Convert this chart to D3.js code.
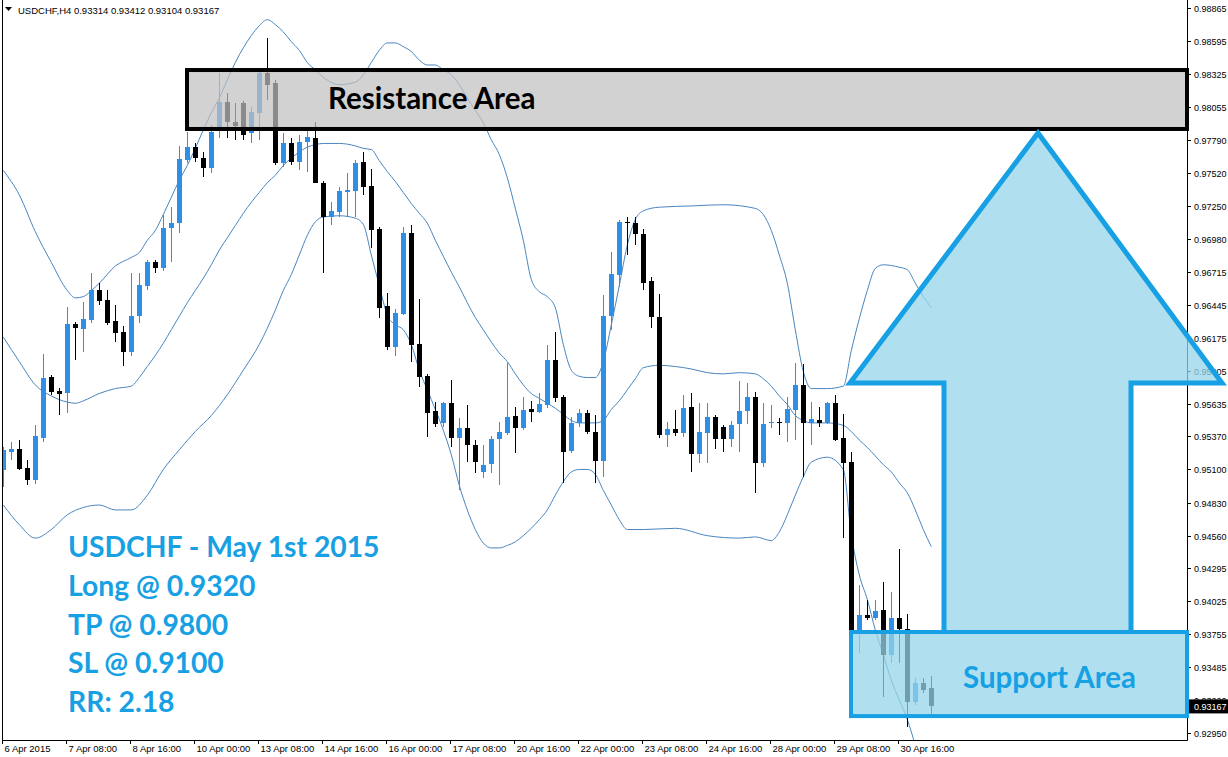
<!DOCTYPE html>
<html><head><meta charset="utf-8">
<script src="https://cdn.jsdelivr.net/npm/d3@7"></script>
<style>body{margin:0;background:#fff;} svg{display:block;}</style>
</head><body>
<svg id="c" width="1228" height="757"></svg>
<script>
// ---------- DATA ----------
const symbol = "USDCHF,H4";
const opens = [
.95096,.95242,.95267,.95112,.95014,.95357,.95854,.95740,.95724,.96287,
.96246,.96319,.96564,.96482,.96311,.96221,.96058,.96352,.96597,.96792,
.96744,.97070,.97111,.97625,.97731,.97641,.97559,.97894,.98098,.97935,
.98090,.97845,.98008,.98334,.98253,.97600,.97763,.97608,.97772,.97804,
.97437,.97160,.97200,.97364,.97372,.97608,.97413,.97062,.96434,.96099,
.96368,.97029,.96123,.95862,.95577,.95479,.95642,.95357,.95438,.95299,
.95079,.95144,.95348,.95397,.95536,.95438,.95593,.95569,.95626,.95993,
.95691,.95251,.95479,.95561,.95406,.95169,.96352,.96686,.97119,.97111,
.97021,.96637,.96344,.95381,.95430,.95397,.95609,.95226,.95397,.95528,
.95446,.95348,.95471,.95577,.95691,.95153,.95479,.95487,.95479,.95585,
.95789,.95479,.95503,.95479,.95642,.95357,.95161,.93760,.93913,.93888,
.93953,.93586,.93888,.93798,.93203,.93358,.93314];
const highs = [
.95283,.95324,.95340,.95177,.95463,.96042,.95871,.95765,.96425,.96303,
.96466,.96703,.96621,.96564,.96442,.96270,.96703,.96703,.96809,.96809,
.97176,.97241,.97739,.97853,.97763,.97690,.97910,.98334,.98171,.98090,
.98106,.98057,.98359,.98620,.98277,.97845,.97804,.97829,.97886,.97935,
.97453,.97282,.97404,.97519,.97625,.97690,.97551,.97078,.96540,.96409,
.97078,.97094,.96491,.95879,.95650,.95650,.95830,.95520,.95626,.95340,
.95299,.95373,.95487,.95968,.95609,.95691,.95658,.95724,.96115,.96221,
.95707,.95528,.95593,.95585,.95544,.96523,.96874,.97135,.97160,.97160,
.97062,.96670,.96531,.95487,.95585,.95707,.95724,.95642,.95642,.95544,
.95463,.95495,.95822,.95805,.95732,.95642,.95626,.95520,.95691,.95968,
.95960,.95650,.95609,.95650,.95707,.95552,.95242,.94157,.94035,.94035,
.94182,.94100,.94451,.93921,.93399,.93399,.93412];
const lows = [
.94957,.95177,.95096,.94973,.94981,.95324,.95707,.95544,.95561,.95993,
.96058,.96295,.96442,.96279,.96140,.95944,.96026,.96295,.96564,.96703,
.96719,.96792,.97029,.97600,.97608,.97486,.97519,.97804,.97804,.97788,
.97788,.97763,.97788,.98114,.97584,.97568,.97584,.97543,.97527,.97437,
.96703,.97094,.97160,.97160,.97160,.97339,.96907,.96336,.96075,.96026,
.96360,.95977,.95773,.95365,.95446,.95446,.95283,.94932,.95161,.95071,
.95030,.95071,.94973,.95381,.95234,.95422,.95487,.95561,.95601,.95650,
.94989,.95234,.95446,.95389,.94989,.95038,.96238,.96589,.96850,.96931,
.96564,.96254,.95357,.95283,.95373,.95365,.95079,.95153,.95153,.95267,
.95242,.95283,.95242,.95471,.94908,.95120,.95438,.95381,.95324,.95340,
.95038,.95299,.95446,.95471,.95332,.94541,.93745,.93602,.93872,.93872,
.93244,.93521,.93521,.92999,.93178,.93276,.93104];
const closes = [
.95259,.95267,.95104,.95014,.95373,.95846,.95732,.95716,.96287,.96254,
.96327,.96564,.96474,.96295,.96213,.96058,.96352,.96605,.96792,.96744,
.97070,.97111,.97633,.97731,.97641,.97559,.97853,.98098,.97935,.97902,
.97829,.98016,.98334,.98237,.97600,.97763,.97608,.97772,.97812,.97437,
.97160,.97209,.97372,.97380,.97600,.97404,.97054,.96417,.96099,.96376,
.97029,.96115,.95854,.95561,.95471,.95642,.95357,.95438,.95299,.95161,
.95136,.95348,.95406,.95528,.95438,.95585,.95569,.95634,.95993,.95683,
.95242,.95479,.95561,.95406,.95169,.96352,.96695,.97119,.97111,.97021,
.96621,.96344,.95381,.95430,.95397,.95601,.95226,.95406,.95528,.95348,
.95348,.95463,.95577,.95691,.95153,.95471,.95487,.95479,.95593,.95789,
.95479,.95512,.95479,.95642,.95340,.95153,.93760,.93913,.93888,.93945,
.93586,.93888,.93798,.93203,.93358,.93301,.93167];

// Bollinger bands (bar index, price)
const upperBars = [0,2,4,6,8,9,10,11,12,14,16,17,18,19,20,21,22,23,24,25,26,27,28,29,30,31,32,33,34,35,36,37,38,39,40,42,44,45,46,47,48,49,50,51,52,53,54,55,56,57,58,59,60,61,62,63,64,65,66,67,68,69,70,71,72,73,74,75,76,77,78,79,80,82,86,90,94,95,96,97,98,99,100,101,103,105,106,107,108,109,110,112,113,114,115,116];
const upperVals = [.9754,.9734,.9704,.9679,.9656,.9650,.9651,.9656,.9662,.9676,.9683,.9687,.9697,.9705,.9718,.9732,.9746,.9758,.9772,.9787,.9801,.9813,.9828,.9842,.9854,.9864,.9872,.9877,.9873,.9867,.9859,.9852,.9842,.9836,.9830,.9824,.9826,.9832,.9842,.9852,.9858,.9858,.9855,.9851,.9844,.9840,.9840,.9836,.9832,.9824,.9813,.9803,.9793,.9779,.9767,.9748,.9723,.9697,.9665,.9655,.9651,.9642,.9612,.9591,.9586,.9585,.9585,.9598,.9628,.9660,.9693,.9714,.9721,.9724,.9725,.9726,.9723,.9718,.9705,.9685,.9662,.9624,.9590,.9576,.9576,.9578,.9607,.9633,.9656,.9674,.9677,.9675,.9673,.9662,.9651,.9642];
const middleBars = [0,2,4,6,8,9,10,12,14,16,17,18,19,20,21,22,23,24,25,26,27,28,29,30,31,32,33,34,35,36,37,38,39,40,42,44,45,46,47,48,49,50,51,52,53,54,55,56,57,58,59,60,61,62,63,64,65,66,67,68,69,70,71,72,74,75,76,77,78,79,80,82,84,86,88,90,92,94,95,96,97,98,99,100,101,103,105,106,107,108,109,110,111,112,113,114,115,116];
const middleVals = [.9618,.9598,.9579,.9570,.9565,.9564,.9566,.9572,.9576,.9578,.9585,.9594,.9603,.9613,.9624,.9635,.9646,.9656,.9666,.9677,.9689,.9699,.9709,.9719,.9728,.9736,.9744,.9750,.9758,.9764,.9769,.9773,.9775,.9776,.9776,.9774,.9772,.9771,.9762,.9753,.9745,.9736,.9727,.9719,.9711,.9697,.9684,.9671,.9659,.9646,.9634,.9624,.9614,.9605,.9598,.9588,.9579,.9572,.9568,.9564,.9560,.9555,.9550,.9548,.9548,.9550,.9559,.9566,.9575,.9584,.9593,.9595,.9594,.9592,.9589,.9588,.9589,.9588,.9584,.9578,.9570,.9563,.9554,.9550,.9548,.9548,.9546,.9541,.9534,.9528,.9521,.9514,.9508,.9499,.9491,.9477,.9461,.9447];
const lowerBars = [0,2,4,6,8,10,12,14,16,18,20,22,24,26,28,30,32,34,35,36,37,38,39,40,42,44,45,46,47,48,49,50,51,52,53,54,55,56,57,58,59,60,61,62,63,64,65,66,67,68,69,70,71,72,73,74,75,76,77,78,80,84,88,92,94,96,97,98,99,100,101,103,105,106,107,108,109,110,111,112,113,114];
const lowerVals = [.9481,.9465,.9454,.9461,.9473,.9479,.9481,.9477,.9477,.9489,.9510,.9526,.9541,.9554,.9571,.9591,.9612,.9640,.9656,.9669,.9685,.9701,.9712,.9716,.9717,.9715,.9710,.9685,.9660,.9636,.9628,.9624,.9612,.9591,.9575,.9559,.9542,.9522,.9497,.9477,.9461,.9450,.9446,.9446,.9448,.9451,.9456,.9462,.9469,.9477,.9489,.9500,.9508,.9510,.9510,.9506,.9493,.9481,.9469,.9461,.9461,.9462,.9456,.9454,.9455,.9452,.9459,.9473,.9489,.9504,.9516,.9520,.9510,.9457,.9424,.9404,.9379,.9359,.9338,.9322,.9306,.9285];

const timeLabels = ["6 Apr 2015","7 Apr 08:00","8 Apr 16:00","10 Apr 00:00","13 Apr 08:00","14 Apr 16:00","16 Apr 00:00","17 Apr 08:00","20 Apr 16:00","22 Apr 00:00","23 Apr 08:00","24 Apr 16:00","28 Apr 00:00","29 Apr 08:00","30 Apr 16:00"];
const timeLabelBars = [0,8,16,24,32,40,48,56,64,72,80,88,96,104,112];
const priceTicks = [0.98865,0.98595,0.98325,0.98055,0.97790,0.97520,0.97250,0.96980,0.96715,0.96445,0.96175,0.95905,0.95635,0.95370,0.95100,0.94830,0.94560,0.94295,0.94025,0.93755,0.93485,0.93220,0.92950];

const resistanceZone = [0.97878, 0.98359];
const supportZone = [0.93088, 0.93774];
const arrowLevels = {base: 0.93774, shoulder: 0.95805, tip: 0.97845};
const noteLines = ["USDCHF - May 1st 2015","Long @ 0.9320","TP @ 0.9800","SL @ 0.9100","RR: 2.18"];

// ---------- DRAWING ----------
const W = 1228, H = 757;
const plot = {left: 2, right: 1187, top: 0, bottom: 740};
const svg = d3.select("#c");
svg.append("rect").attr("width", W).attr("height", H).attr("fill", "#fff");

const x = d3.scaleLinear().domain([0, 116]).range([3.3, 931.3]);
const y = d3.scaleLinear().domain([0.92950, 0.98865]).range([733, 8]);

svg.append("defs").append("clipPath").attr("id", "clip")
  .append("rect").attr("x", plot.left + 1).attr("y", plot.top)
  .attr("width", plot.right - plot.left - 1).attr("height", plot.bottom - plot.top);

const g = svg.append("g").attr("clip-path", "url(#clip)");

// bands
const bandColor = "#4a85bd";
const band = (bars, vals) => {
  const pts = bars.map((b, i) => [x(b), y(vals[i])]);
  g.append("path").attr("d", d3.line().curve(d3.curveMonotoneX)(pts))
    .attr("fill", "none").attr("stroke", bandColor).attr("stroke-width", 1);
};
band(upperBars, upperVals);
band(middleBars, middleVals);
band(lowerBars, lowerVals);

// candles
const bull = "#2f8fe6", bear = "#000";
const candles = g.append("g").attr("shape-rendering", "crispEdges");
opens.forEach((o, i) => {
  const c = closes[i], hi = highs[i], lo = lows[i];
  const col = c >= o ? bull : bear;
  const cx = Math.round(x(i)) + 0.5;
  candles.append("line").attr("x1", cx).attr("x2", cx)
    .attr("y1", y(hi)).attr("y2", y(lo)).attr("stroke", col).attr("stroke-width", 1);
  const top = y(Math.max(o, c)), bot = y(Math.min(o, c));
  candles.append("rect").attr("x", Math.round(x(i)) - 2).attr("y", top)
    .attr("width", 5).attr("height", Math.max(1, bot - top)).attr("fill", col);
});

// frame
svg.append("path").attr("d", `M${plot.left + 0.5},0V${plot.bottom + 0.5}H${plot.right + 0.5}V0`)
  .attr("fill", "none").attr("stroke", "#000").attr("stroke-width", 1);

// price axis
const axFont = "'Liberation Sans', Arial, sans-serif";
const yAxis = svg.append("g");
priceTicks.forEach(v => {
  const yy = Math.round(y(v)) + 0.5;
  yAxis.append("line").attr("x1", plot.right).attr("x2", plot.right + 4)
    .attr("y1", yy).attr("y2", yy).attr("stroke", "#000");
  yAxis.append("text").attr("x", plot.right + 7).attr("y", yy + 3.5)
    .attr("font-family", axFont).attr("font-size", 9).attr("fill", "#000")
    .text(v.toFixed(5));
});
// current price box
const last = closes[closes.length - 1];
const ly = y(last);
yAxis.append("rect").attr("x", plot.right + 1).attr("y", ly - 7).attr("width", 41).attr("height", 14).attr("fill", "#000");
yAxis.append("text").attr("x", plot.right + 7).attr("y", ly + 3.5)
  .attr("font-family", axFont).attr("font-size", 9).attr("fill", "#fff").text(last.toFixed(5));

// time axis
const xAxis = svg.append("g");
timeLabelBars.forEach((b, i) => {
  const xx = Math.round(x(b)) - 0.5;
  xAxis.append("line").attr("x1", xx).attr("x2", xx).attr("y1", plot.bottom).attr("y2", plot.bottom + 4).attr("stroke", "#000");
  xAxis.append("text").attr("x", xx + 2).attr("y", plot.bottom + 12)
    .attr("font-family", axFont).attr("font-size", 9.5).attr("fill", "#000").text(timeLabels[i]);
});

// title
svg.append("path").attr("d", "M5,7L12,7L8.5,11Z").attr("fill", "#000");
svg.append("text").attr("x", 18).attr("y", 14).attr("font-family", axFont).attr("font-size", 9.5)
  .attr("fill", "#000")
  .text(`${symbol}  ${opens[116].toFixed(5)} ${highs[116].toFixed(5)} ${lows[116].toFixed(5)} ${closes[116].toFixed(5)}`);

// resistance box
const rTop = y(resistanceZone[1]), rBot = y(resistanceZone[0]);
svg.append("rect").attr("x", 187).attr("y", rTop).attr("width", plot.right - 187).attr("height", rBot - rTop)
  .attr("fill", "rgb(193,193,193)").attr("fill-opacity", 0.72).attr("stroke", "#000").attr("stroke-width", 4);
const bigFont = "Lato, 'Open Sans', sans-serif";
svg.append("text").attr("x", 328).attr("y", (rTop + rBot) / 2 + 10).attr("font-family", bigFont)
  .attr("font-weight", "bold").attr("font-size", 29.5).attr("fill", "#000").text("Resistance Area");

// arrow
const blue = "#17a0e3", lightBlue = "rgb(150,213,233)";
const aBase = y(arrowLevels.base), aSh = y(arrowLevels.shoulder), aTip = y(arrowLevels.tip);
const arrowPts = [[944, aBase], [944, aSh], [850, aSh], [1038, aTip], [1222, aSh], [1131, aSh], [1131, aBase]];
svg.append("path").attr("d", d3.line()(arrowPts))
  .attr("fill", lightBlue).attr("fill-opacity", 0.75).attr("stroke", blue).attr("stroke-width", 5)
  .attr("stroke-linejoin", "miter");

// support box
const sTop = y(supportZone[1]), sBot = y(supportZone[0]);
svg.append("rect").attr("x", 851).attr("y", sTop).attr("width", plot.right - 851).attr("height", sBot - sTop)
  .attr("fill", lightBlue).attr("fill-opacity", 0.75).attr("stroke", blue).attr("stroke-width", 4);
svg.append("text").attr("x", 963).attr("y", 688).attr("font-family", bigFont)
  .attr("font-weight", "bold").attr("font-size", 29.5).attr("fill", blue).text("Support Area");

// notes
noteLines.forEach((t, i) => {
  svg.append("text").attr("x", 68).attr("y", 557 + i * 38.8).attr("font-family", bigFont)
    .attr("font-weight", "bold").attr("font-size", 28.3).attr("fill", blue).text(t);
});
</script>
</body></html>
